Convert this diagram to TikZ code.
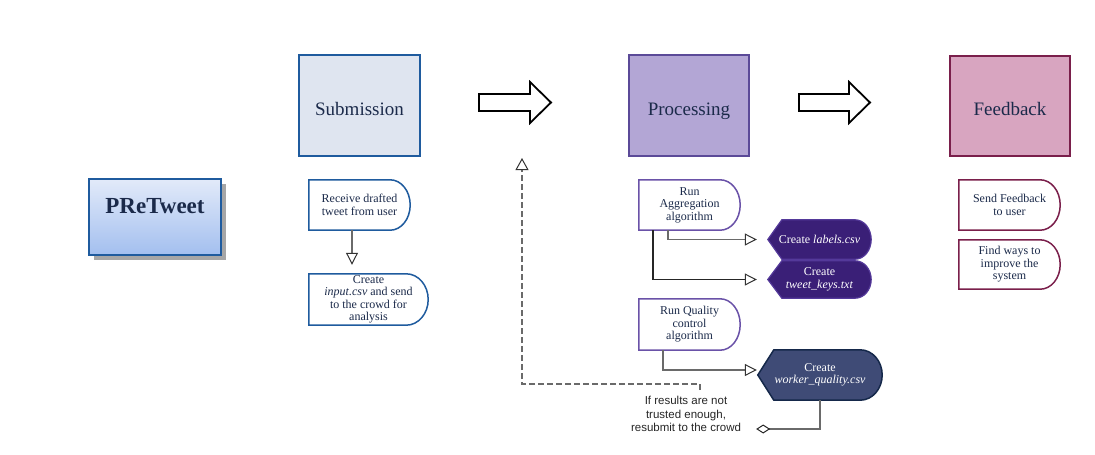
\documentclass[tikz,border=0pt]{standalone}
\usepackage{fontspec}
\setmainfont{Liberation Serif}
\newfontfamily\annfont{Liberation Sans}
\usetikzlibrary{arrows.meta,backgrounds,shadows,calc}
\definecolor{subfill}{HTML}{DFE5F0}
\definecolor{subdraw}{HTML}{1F5B9E}
\definecolor{profill}{HTML}{B3A6D5}
\definecolor{prodraw}{HTML}{5B4A98}
\definecolor{fbfill}{HTML}{D8A5C0}
\definecolor{fbdraw}{HTML}{7A1F4B}
\definecolor{txt}{HTML}{1B2A4A}
\definecolor{aggdraw}{HTML}{6A52A8}
\definecolor{labfill}{HTML}{3A1F77}
\definecolor{labdraw}{HTML}{54399A}
\definecolor{wqfill}{HTML}{3F4B76}
\definecolor{wqdraw}{HTML}{15284A}
\definecolor{conncol}{HTML}{6A6A6A}
\definecolor{ptop}{HTML}{E2EAF9}
\definecolor{pbot}{HTML}{A3BFEF}
\newcommand\delayoutline[3]{%
 \begin{scope}[on background layer]
 \path[#2] let \p1=(#1.north east), \p2=(#1.south east), \n1={abs(\y1-\y2)/2} in
   (#1.north west) -- ([xshift=-#3]#1.north east) arc[start angle=90, end angle=-90, x radius=#3, y radius=\n1] -- (#1.south west) -- cycle;
 \end{scope}}
\newcommand\dispoutline[4]{%
 \begin{scope}[on background layer]
 \path[#2] let \p1=(#1.north east), \p2=(#1.south east), \n1={abs(\y1-\y2)/2} in
   (#1.west) -- ([xshift=#3]#1.north west) -- ([xshift=-#4]#1.north east) arc[start angle=90, end angle=-90, x radius=#4, y radius=\n1] -- ([xshift=#3]#1.south west) -- cycle;
 \end{scope}}
\tikzset{
  stage/.style={draw=#1, line width=2pt, text=txt, font=\fontsize{19}{22}\selectfont, inner sep=0pt, text height=19pt, text depth=0pt},
  smalltext/.style={text=txt, font=\fontsize{12}{12.4}\selectfont, align=center, inner sep=0pt, minimum width=101pt, minimum height=50pt},
  disptext/.style={text=white, font=\fontsize{12}{12.4}\selectfont, align=center, inner sep=0pt},
  conn/.style={draw=conncol, line width=1.5pt, -{Triangle[open, length=12pt, width=12pt, line width=1pt, color=black!80]}},
  blockarrow/.style={draw=black, line width=1.8pt, fill=white, line join=miter},
}
\begin{document}
\begin{tikzpicture}[x=1pt,y=-1pt]
\useasboundingbox (0,0) rectangle (1095,455);

% title
\node[draw=subdraw, line width=2pt, top color=ptop, bottom color=pbot, minimum width=132pt, minimum height=76pt,
      drop shadow={shadow xshift=5pt, shadow yshift=-5pt, opacity=1, fill=black!35},
      text height=16pt, text depth=24pt, inner sep=0pt,
      text=txt, font=\fontsize{23}{26}\selectfont\bfseries] (title) at (155,217) {PReTweet};

% stages
\node[stage=subdraw, fill=subfill, minimum width=121pt, minimum height=101pt] (sub) at (359.5,105.5) {Submission};
\node[stage=prodraw, fill=profill, minimum width=120pt, minimum height=101pt] (pro) at (689,105.5) {Processing};
\node[stage=fbdraw, fill=fbfill, minimum width=120pt, minimum height=100pt] (fb) at (1010,105.5) {Feedback};

% block arrows
\draw[blockarrow] (479,94) -- (530,94) -- (530,82) -- (551,102.5) -- (530,123) -- (530,111) -- (479,111) -- cycle;
\draw[blockarrow] (799,94) -- (849,94) -- (849,82) -- (870,102.5) -- (849,123) -- (849,111) -- (799,111) -- cycle;

% submission column
\node[smalltext] (recv) at (359.5,205) {Receive drafted\\tweet from user};
\delayoutline{recv}{draw=subdraw, line width=1.5pt, fill=white}{20pt}
\node[smalltext, minimum width=119pt, minimum height=51pt] (create) at (368.5,299.5) {Create\\\textit{input.csv} and send\\to the crowd for\\analysis};
\delayoutline{create}{draw=subdraw, line width=1.5pt, fill=white}{22pt}
\draw[conn] ([xshift=-7.5pt]recv.south) -- ([xshift=-16.5pt,yshift=9pt]create.north);

% processing column
\node[smalltext] (agg) at (689.5,205) {Run\\Aggregation\\algorithm};
\delayoutline{agg}{draw=aggdraw, line width=1.5pt, fill=white}{20pt}
\node[smalltext, minimum height=51pt] (qual) at (689.5,324.5) {Run Quality\\control\\algorithm};
\delayoutline{qual}{draw=aggdraw, line width=1.5pt, fill=white}{20pt}

\node[disptext, minimum width=103pt, minimum height=39pt] (labels) at (819.5,239.5) {Create \textit{labels.csv}};
\dispoutline{labels}{draw=labdraw, line width=1.2pt, fill=labfill}{14pt}{16pt}
\node[disptext, minimum width=103pt, minimum height=37pt] (keys) at (819.5,279.5) {Create\\\textit{tweet\_keys.txt}};
\dispoutline{keys}{draw=labdraw, line width=1.2pt, fill=labfill}{14pt}{16pt}
\node[disptext, minimum width=124pt, minimum height=50pt] (worker) at (820,375) {Create\\\textit{worker\_quality.csv}};
\dispoutline{worker}{draw=wqdraw, line width=1.5pt, fill=wqfill}{16pt}{22pt}

\draw[conn] ([xshift=-21.5pt]agg.south) |- ([xshift=-11pt]labels.west);
\draw[conn, draw=black!85] ([xshift=-36.5pt]agg.south) |- ([xshift=-11pt]keys.west);
\draw[conn] ([xshift=-26.5pt]qual.south) |- ([xshift=-1pt,yshift=5pt]worker.west);

% note and feedback loop
\node[text=black!85, font=\annfont\fontsize{11.5}{13.5}\selectfont, align=center, inner sep=0pt] (note) at (686,414) {If results are not\\trusted enough,\\resubmit to the crowd};
\coordinate (ret) at (522,158);
\draw[draw=conncol, line width=1.3pt, dash pattern=on 6pt off 3pt,
      -{Triangle[open, length=12pt, width=13pt, line width=1pt, color=black!80]}]
  ([xshift=14pt,yshift=6pt]note.north) -- ++(0,-6) -| (ret);
\draw[draw=conncol, line width=1.5pt, -{Diamond[open, length=14pt, width=9pt, line width=1pt, color=black!85]}]
  (worker.south) |- ([xshift=15pt,yshift=-15pt]note.east);

% feedback column
\node[smalltext] (sendfb) at (1009.5,205) {Send Feedback\\to user};
\delayoutline{sendfb}{draw=fbdraw, line width=1.5pt, fill=white}{20pt}
\node[smalltext, minimum height=49pt] (improve) at (1009.5,264.5) {Find ways to\\improve the\\system};
\delayoutline{improve}{draw=fbdraw, line width=1.5pt, fill=white}{20pt}
\end{tikzpicture}
\end{document}
